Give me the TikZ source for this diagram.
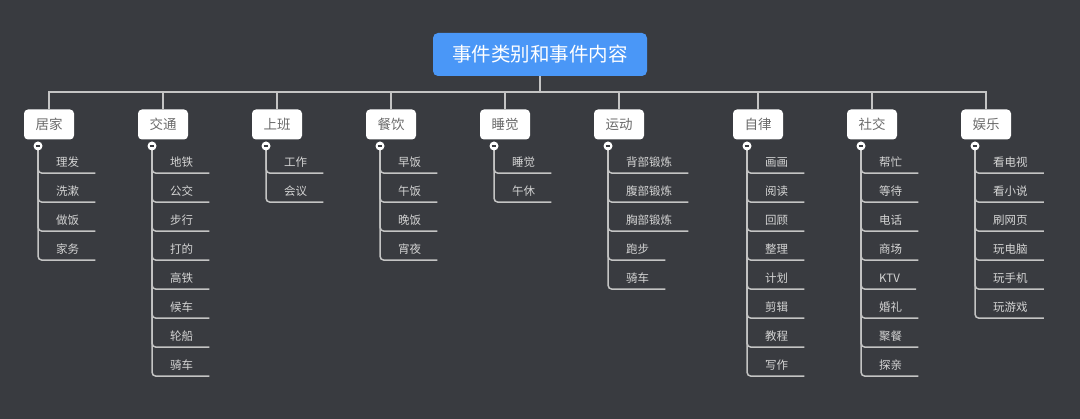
\documentclass[tikz,border=0pt]{standalone}
\usepackage{fontspec}
\setmainfont{Noto Sans CJK SC}
\definecolor{bg}{HTML}{393B40}
\definecolor{rootblue}{HTML}{4A97F7}
\definecolor{linegray}{HTML}{C4C4C4}
\definecolor{cattext}{HTML}{6A6A6A}
\definecolor{childtext}{HTML}{D4D4D4}
\tikzset{
  rootbox/.style={fill=rootblue, rounded corners=5pt, minimum width=214pt, minimum height=43pt,
    inner sep=0pt, text=white, font=\fontsize{19.5}{20}\selectfont},
  catbox/.style={fill=white, rounded corners=4pt, minimum width=50pt, minimum height=30pt,
    inner sep=0pt, text=cattext, font=\fontsize{13.5}{14}\selectfont},
  kidtext/.style={inner xsep=16pt, inner ysep=0pt, text depth=6.5pt, text=childtext,
    font=\fontsize{11.5}{12}\selectfont},
  conn/.style={draw=linegray, line width=1.5pt},
  knob/.style={circle, fill=white, minimum size=9pt, inner sep=0pt,
    path picture={\draw[color=bg, line width=1.3pt]
      ([xshift=2.2pt]path picture bounding box.west) -- ([xshift=-2.2pt]path picture bounding box.east);}}
}
\begin{document}
\begin{tikzpicture}[x=1pt,y=-1pt]
\fill[bg] (0,0) rectangle (1080,419);
\useasboundingbox (0,0) rectangle (1080,419);
\node[rootbox] (root) at (540,54.5) {事件类别和事件内容};
\coordinate (bus) at (540,92);
\foreach \name/\cx/\kids [count=\i] in {
  居家/49/{理发,洗漱,做饭,家务},
  交通/163/{地铁,公交,步行,打的,高铁,候车,轮船,骑车},
  上班/277/{工作,会议},
  餐饮/391/{早饭,午饭,晚饭,宵夜},
  睡觉/505/{睡觉,午休},
  运动/619/{背部锻炼,腹部锻炼,胸部锻炼,跑步,骑车},
  自律/758/{画画,阅读,回顾,整理,计划,剪辑,教程,写作},
  社交/872/{帮忙,等待,电话,商场,KTV,婚礼,聚餐,探亲},
  娱乐/986/{看电视,看小说,刷网页,玩电脑,玩手机,玩游戏}}{
  \node[catbox] (cat\i) at (\cx,124.5) {\name};
  \draw[conn] (root.south) -- (bus) -| (cat\i.north);
  \coordinate (kc\i) at (\cx-11,146);
  \foreach \k [count=\j] in \kids {
    \node[kidtext, anchor=base west] (c\i-\j) at (\cx-9,166.5+29*\j-29) {\k};
    \draw[conn, rounded corners=4pt] (kc\i) |- (c\i-\j.south east);
  }
  \node[knob] (k\i) at (kc\i) {};
}
\end{tikzpicture}
\end{document}
